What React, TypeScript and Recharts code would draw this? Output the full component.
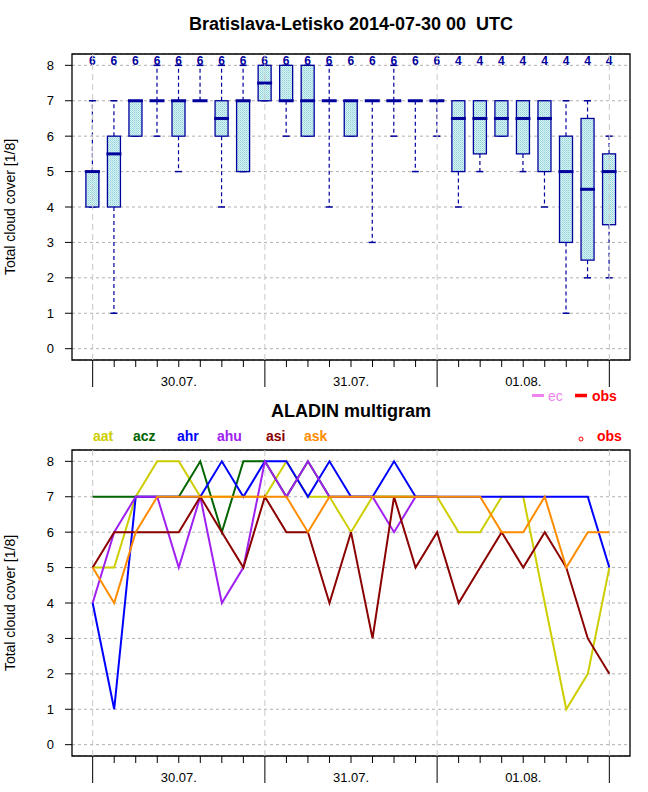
import React from 'react'
import { ComposedChart, Bar, Line, XAxis, YAxis, CartesianGrid, ReferenceLine, ReferenceArea } from 'recharts'

// forecast hours from 2014-07-30 00 UTC
const hours = [0, 3, 6, 9, 12, 15, 18, 21, 24, 27, 30, 33, 36, 39, 42, 45, 48, 51, 54, 57, 60, 63, 66, 69, 72]
const dayTicks = [12, 36, 60]
const dayLabels = ['30.07.', '31.07.', '01.08.']
const dayBreaks = [0, 24, 48, 72]
const cloudTicks = [0, 1, 2, 3, 4, 5, 6, 7, 8]

// ensemble box statistics (top panel)
const boxMin = [4, 1, 6, 6, 5, 7, 4, 5, 7, 6, 6, 4, 6, 3, 6, 5, 6, 4, 5, 6, 5, 4, 1, 2, 2]
const boxQ1 = [4, 4, 6, 7, 6, 7, 6, 5, 7, 7, 6, 7, 6, 7, 7, 7, 7, 5, 5.5, 6, 5.5, 5, 3, 2.5, 3.5]
const boxMed = [5, 5.5, 7, 7, 7, 7, 6.5, 7, 7.5, 7, 7, 7, 7, 7, 7, 7, 7, 6.5, 6.5, 6.5, 6.5, 6.5, 5, 4.5, 5]
const boxQ3 = [5, 6, 7, 7, 7, 7, 7, 7, 8, 8, 8, 7, 7, 7, 7, 7, 7, 7, 7, 7, 7, 7, 6, 6.5, 5.5]
const boxMax = [7, 7, 7, 8, 8, 8, 8, 8, 8, 8, 8, 8, 7, 7, 8, 7, 7, 7, 7, 7, 7, 7, 7, 7, 6]
const members = [6, 6, 6, 6, 6, 6, 6, 6, 6, 6, 6, 6, 6, 6, 6, 6, 6, 4, 4, 4, 4, 4, 4, 4, 4]

// ALADIN models (bottom panel)
const aat = [5, 5, 7, 8, 8, 7, 7, 7, 7, 8, 7, 7, 6, 7, 7, 7, 7, 6, 6, 7, 7, 4, 1, 2, 5]
const acz = [7, 7, 7, 7, 7, 8, 6, 8, 8, 7, 8, 7, 7, 7, 7, 7, 7]
const ahr = [4, 1, 7, 7, 7, 7, 8, 7, 8, 8, 7, 8, 7, 7, 8, 7, 7, 7, 7, 7, 7, 7, 7, 7, 5]
const ahu = [4, 6, 7, 7, 5, 7, 4, 5, 8, 7, 8, 7, 7, 7, 6, 7, 7]
const asi = [5, 6, 6, 6, 6, 7, 6, 5, 7, 6, 6, 4, 6, 3, 7, 5, 6, 4, 5, 6, 5, 6, 5, 3, 2]
const ask = [5, 4, 6, 7, 7, 7, 7, 7, 7, 7, 6, 7, 7, 7, 7, 7, 7, 7, 7, 6, 6, 7, 5, 6, 6]

const models = [
  { key: 'aat', color: '#cdcd00', x: 93 },
  { key: 'acz', color: '#006400', x: 133 },
  { key: 'ahr', color: '#0000ff', x: 177 },
  { key: 'ahu', color: '#a020f0', x: 217 },
  { key: 'asi', color: '#8b0000', x: 266 },
  { key: 'ask', color: '#ff8c00', x: 304 },
]

const boxRows = hours.map((h, i) => ({
  hour: h, lo: boxMin[i], q1: boxQ1[i], med: boxMed[i], q3: boxQ3[i], hi: boxMax[i], n: members[i],
}))

const lineRows = hours.map((h, i) => ({
  hour: h, aat: aat[i], acz: acz[i], ahr: ahr[i], ahu: ahu[i], asi: asi[i], ask: ask[i],
}))

const W = 648
const H = 396
const FONT = '"Liberation Sans", Arial, Helvetica, sans-serif'
const NAVY = '#00009c'
const xDomain = [-2.88, 74.88]
const yDomain = [-0.32, 8.32]

function HourTick(props: any) {
  const { x, y, payload } = props
  const h = payload.value
  const major = h % 24 === 0
  const di = dayTicks.indexOf(h)
  return (
    <g>
      <line x1={x} x2={x} y1={y} y2={y + (major ? 27 : 7)} stroke="#000" strokeWidth={1} />
      {di >= 0 && (
        <text x={x} y={y + 26} textAnchor="middle" fontSize={13} fontFamily={FONT} fill="#000">
          {dayLabels[di]}
        </text>
      )}
    </g>
  )
}

function BoxShape(props: any) {
  const { x, y, width, height, payload } = props
  const top = Math.min(y, y + height)
  const bottom = Math.max(y, y + height)
  const span = payload.hi - payload.lo
  if (!span) return null
  const ppu = (bottom - top) / span
  const py = (v: number) => bottom - (v - payload.lo) * ppu
  const cx = x + width / 2
  const bw = 13
  return (
    <g>
      <defs>
        <pattern id="boxfill" width="2" height="2" patternUnits="userSpaceOnUse">
          <rect width="2" height="2" fill="#d8f1f3" />
          <rect width="1" height="1" fill="#8fd3da" />
          <rect x="1" y="1" width="1" height="1" fill="#b0e0e5" />
        </pattern>
      </defs>
      <line x1={cx} x2={cx} y1={py(payload.q3)} y2={py(payload.hi)} stroke={NAVY} strokeWidth={1.2} strokeDasharray="4 3" />
      <line x1={cx} x2={cx} y1={py(payload.q1)} y2={py(payload.lo)} stroke={NAVY} strokeWidth={1.2} strokeDasharray="4 3" />
      <line x1={cx - 3.5} x2={cx + 3.5} y1={py(payload.hi)} y2={py(payload.hi)} stroke={NAVY} strokeWidth={1.5} />
      <line x1={cx - 3.5} x2={cx + 3.5} y1={py(payload.lo)} y2={py(payload.lo)} stroke={NAVY} strokeWidth={1.5} />
      {payload.q3 > payload.q1 && (
        <rect x={cx - bw / 2} y={py(payload.q3)} width={bw} height={py(payload.q1) - py(payload.q3)}
          fill="url(#boxfill)" stroke={NAVY} strokeWidth={1.3} />
      )}
      <line x1={cx - 7.5} x2={cx + 7.5} y1={py(payload.med)} y2={py(payload.med)} stroke={NAVY} strokeWidth={3} />
      <text x={cx} y={py(8)} textAnchor="middle" fontSize={12} fontWeight="bold" fontFamily={FONT} fill={NAVY}>
        {payload.n}
      </text>
    </g>
  )
}

function axes() {
  return [
    <XAxis key="x" dataKey="hour" type="number" domain={xDomain} ticks={hours} interval={0}
      allowDataOverflow height={36} tickSize={0} tickMargin={0} axisLine={false} tickLine={false}
      tick={<HourTick />} />,
    <YAxis key="y" type="number" domain={yDomain} ticks={cloudTicks} interval={0} allowDataOverflow
      width={72} tickSize={7} tickMargin={11} axisLine={false} tickLine={{ stroke: '#000' }}
      tick={{ fontSize: 13, fill: '#000', fontFamily: FONT }} />,
    <CartesianGrid key="g" vertical={false} stroke="#b0b0b0" strokeDasharray="3 3" />,
    ...dayBreaks.map((d) => (
      <ReferenceLine key={'v' + d} x={d} stroke="#c8c8c8" strokeDasharray="6 4" ifOverflow="visible" />
    )),
    <ReferenceArea key="box" x1={xDomain[0]} x2={xDomain[1]} y1={yDomain[0]} y2={yDomain[1]}
      fill="none" fillOpacity={0} stroke="#000" strokeWidth={1.3} ifOverflow="visible" />,
  ]
}

export default function App() {
  const margin = { top: 54, right: 18, bottom: 0, left: 0 }
  return (
    <div style={{ position: 'absolute', left: 0, top: 0, width: W, height: 792, background: '#fff' }}>
      <div style={{ position: 'absolute', left: 0, top: 0 }}>
        <ComposedChart width={W} height={H} data={boxRows} margin={margin}>
          {axes()}
          <Bar dataKey={(d: any) => [d.lo, d.hi]} barSize={13} shape={BoxShape} isAnimationActive={false} />
        </ComposedChart>
      </div>
      <div style={{ position: 'absolute', left: 0, top: H }}>
        <ComposedChart width={W} height={H} data={lineRows} margin={margin}>
          {axes()}
          {models.map((m) => (
            <Line key={m.key} type="linear" dataKey={m.key} stroke={m.color} strokeWidth={2}
              dot={false} activeDot={false} isAnimationActive={false} />
          ))}
        </ComposedChart>
      </div>
      <svg width={W} height={792} style={{ position: 'absolute', left: 0, top: 0, pointerEvents: 'none' }}
        fontFamily={FONT}>
        <text x={351} y={30} textAnchor="middle" fontSize={18} fontWeight="bold" style={{ whiteSpace: 'pre' }}>
          {'Bratislava-Letisko 2014-07-30 00  UTC'}
        </text>
        <text transform="translate(15,207) rotate(-90)" textAnchor="middle" fontSize={14}>Total cloud cover [1/8]</text>
        <text transform="translate(15,603) rotate(-90)" textAnchor="middle" fontSize={14}>Total cloud cover [1/8]</text>
        <line x1={532} x2={544} y1={395.5} y2={395.5} stroke="#ee82ee" strokeWidth={3} />
        <text x={548} y={401} fontSize={14} fill="#ee82ee">ec</text>
        <line x1={575} x2={587} y1={395.5} y2={395.5} stroke="#ff0000" strokeWidth={3.5} />
        <text x={592} y={401} fontSize={14} fontWeight="bold" fill="#ff0000">obs</text>
        <text x={351} y={417} textAnchor="middle" fontSize={18} fontWeight="bold">ALADIN multigram</text>
        {models.map((m) => (
          <text key={m.key} x={m.x} y={441} fontSize={14} fontWeight="bold" fill={m.color}>{m.key}</text>
        ))}
        <circle cx={581} cy={439} r={2} fill="none" stroke="#ff0000" strokeWidth={1} />
        <text x={597} y={441} fontSize={14} fontWeight="bold" fill="#ff0000">obs</text>
      </svg>
    </div>
  )
}
